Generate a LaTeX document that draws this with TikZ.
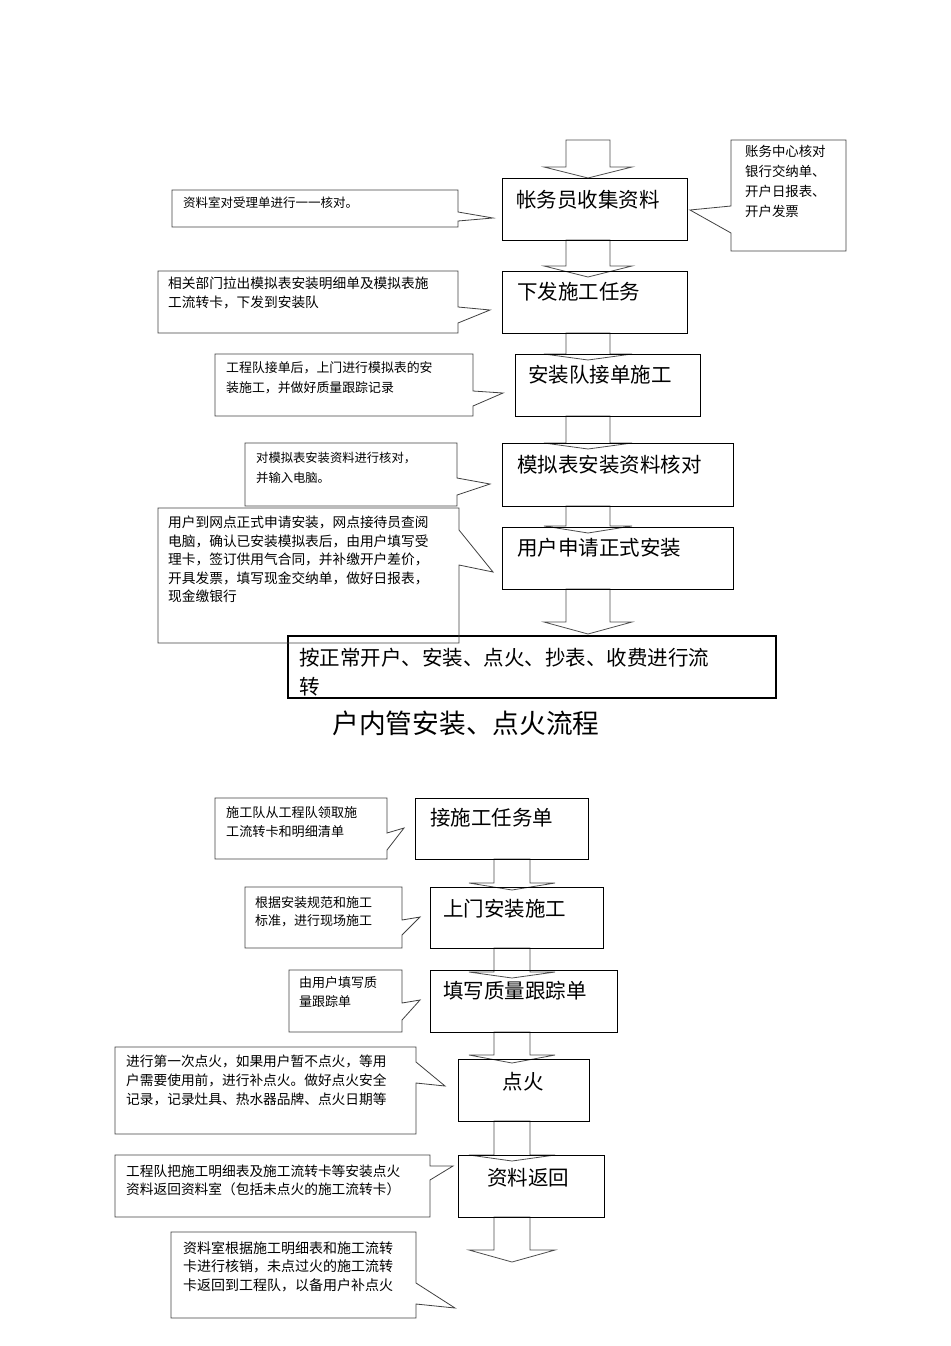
\documentclass[tikz,border=0pt]{standalone}
\usepackage{fontspec}
\newfontfamily\cjk{Noto Sans CJK SC}
\tikzset{
  box/.style={draw=black, line width=1pt, inner sep=0pt, anchor=north west},
  bigbox/.style={box, line width=1.6pt},
  call/.style={draw=black!75, line width=0.8pt, line join=miter},
  barrow/.style={draw=black!70, line width=0.8pt, line join=miter},
  ctext/.style={anchor=north west, inner sep=0pt, align=left},
  btext/.style={anchor=west, inner sep=0pt, font=\cjk\fontsize{20.5}{29}\selectfont},
}
\newcommand\blockarr[6]{%
  \draw[barrow] ({#1-#5},#2) -- ({#1-#5},#3) -- ({#1-#6},#3) -- (#1,#4) -- ({#1+#6},#3) -- ({#1+#5},#3) -- ({#1+#5},#2) -- cycle;}
% callout with pointer on right edge: x1,y1,x2,y2,b1,b2,tipx,tipy
\newcommand\callR[8]{%
  \draw[call] (#1,#2) -- (#3,#2) -- (#3,#5) -- (#7,#8) -- (#3,#6) -- (#3,#4) -- (#1,#4) -- cycle;}
\begin{document}
\begin{tikzpicture}[x=1pt,y=-1pt]
\useasboundingbox (0,0) rectangle (950,1346);

% ---------- upper flow ----------
\blockarr{588}{140}{167}{178}{22}{44}
\blockarr{588}{240}{266}{277}{22}{44}
\blockarr{588}{333}{354}{360}{22}{44}
\blockarr{588}{416}{443}{449}{22}{44}
\blockarr{588}{506}{526}{533}{22}{44}
\blockarr{588}{589}{622}{634}{22}{44}

\node[box, minimum width=185pt, minimum height=62pt] (b1) at (502,178) {};
\node[box, minimum width=185pt, minimum height=62pt] (b2) at (502,271) {};
\node[box, minimum width=185pt, minimum height=62pt] (b3) at (515,354) {};
\node[box, minimum width=231pt, minimum height=63pt] (b4) at (502,443) {};
\node[box, minimum width=231pt, minimum height=62pt] (b5) at (502,527) {};
\node[bigbox, minimum width=488pt, minimum height=62pt] (b6) at (287,635) {};

\node[btext] (t1) at (516,200) {帐务员收集资料};
\node[btext] (t2) at (517,292) {下发施工任务};
\node[btext] (t3) at (528,375) {安装队接单施工};
\node[btext] (t4) at (517,465) {模拟表安装资料核对};
\node[btext] (t5) at (517,548) {用户申请正式安装};
\node[ctext, font=\cjk\fontsize{20.5}{29}\selectfont] (t6) at (299,648) {按正常开户、安装、点火、抄表、收费进行流\\转};

% callouts upper
\callR{172}{190}{458}{227}{212}{221}{493}{218}
\draw[call] (731,140) -- (846,140) -- (846,251) -- (731,251) -- (731,233) -- (690,210) -- (731,206) -- cycle;
\callR{158}{271}{458}{333}{307}{323}{490}{310}
\callR{215}{354}{473}{416}{391}{406}{503}{393}
\callR{245}{443}{457}{506}{478}{495}{490}{484}
\callR{158}{508}{459}{643}{530}{565}{493}{572}

\node[ctext, font=\cjk\fontsize{12.5}{19}\selectfont] (c1l) at (183,197) {资料室对受理单进行一一核对。};
\node[ctext, font=\cjk\fontsize{13.4}{20}\selectfont] (c1r) at (745,145) {账务中心核对\\银行交纳单、\\开户日报表、\\开户发票};
\node[ctext, font=\cjk\fontsize{13.7}{19}\selectfont] (c2) at (168,277) {相关部门拉出模拟表安装明细单及模拟表施\\工流转卡，下发到安装队};
\node[ctext, font=\cjk\fontsize{12.9}{20}\selectfont] (c3) at (226,361.5) {工程队接单后，上门进行模拟表的安\\装施工，并做好质量跟踪记录};
\node[ctext, font=\cjk\fontsize{12.3}{20}\selectfont] (c4) at (256,452) {对模拟表安装资料进行核对，\\并输入电脑。};
\node[ctext, font=\cjk\fontsize{13.7}{18.5}\selectfont] (c5) at (168,516) {用户到网点正式申请安装，网点接待员查阅\\电脑，确认已安装模拟表后，由用户填写受\\理卡，签订供用气合同，并补缴开户差价，\\开具发票，填写现金交纳单，做好日报表，\\现金缴银行};

% title
\node[inner sep=0pt, font=\cjk\fontsize{26.7}{32}\selectfont] (title) at (466,723) {户内管安装、点火流程};

% ---------- lower flow ----------
\blockarr{512}{859}{883}{890}{18}{43}
\blockarr{512}{948}{972}{978}{18}{43}
\blockarr{512}{1032}{1055}{1063}{18}{43}
\blockarr{512}{1121}{1155}{1161}{18}{43}
\blockarr{512}{1217}{1250}{1262}{18}{43}

\node[box, minimum width=173pt, minimum height=61pt] (b7) at (415,798) {};
\node[box, minimum width=173pt, minimum height=61pt] (b8) at (430,887) {};
\node[box, minimum width=187pt, minimum height=62pt] (b9) at (430,970) {};
\node[box, minimum width=131pt, minimum height=62pt] (b10) at (458,1059) {};
\node[box, minimum width=146pt, minimum height=62pt] (b11) at (458,1155) {};

\node[btext] (t7) at (430,818) {接施工任务单};
\node[btext] (t8) at (443,909) {上门安装施工};
\node[btext] (t9) at (443,991) {填写质量跟踪单};
\node[btext, anchor=center] (t10) at (523,1082) {点火};
\node[btext, anchor=center] (t11) at (528,1178) {资料返回};

\callR{215}{798}{387}{859}{833}{850}{404}{828}
\callR{245}{887}{402}{948}{920}{935}{420}{917}
\callR{289}{970}{402}{1032}{1003}{1020}{420}{1000}
\callR{115}{1047}{416}{1134}{1062}{1083}{445}{1086}
\callR{115}{1155}{430}{1217}{1166}{1180}{453}{1166}
\callR{171}{1232}{416}{1318}{1283}{1304}{455}{1308}

\node[ctext, font=\cjk\fontsize{13.1}{19}\selectfont] (c7) at (226,806.5) {施工队从工程队领取施\\工流转卡和明细清单};
\node[ctext, font=\cjk\fontsize{13}{17.5}\selectfont] (c8) at (255,896.5) {根据安装规范和施工\\标准，进行现场施工};
\node[ctext, font=\cjk\fontsize{13}{19}\selectfont] (c9) at (299,976.5) {由用户填写质\\量跟踪单};
\node[ctext, font=\cjk\fontsize{13.7}{19}\selectfont] (c10) at (126,1055) {进行第一次点火，如果用户暂不点火，等用\\户需要使用前，进行补点火。做好点火安全\\记录，记录灶具、热水器品牌、点火日期等};
\node[ctext, font=\cjk\fontsize{13.7}{17.5}\selectfont] (c11) at (126,1165) {工程队把施工明细表及施工流转卡等安装点火\\资料返回资料室（包括未点火的施工流转卡）};
\node[ctext, font=\cjk\fontsize{14}{18.5}\selectfont] (c12) at (183,1241) {资料室根据施工明细表和施工流转\\卡进行核销，未点过火的施工流转\\卡返回到工程队，以备用户补点火};
\end{tikzpicture}
\end{document}
